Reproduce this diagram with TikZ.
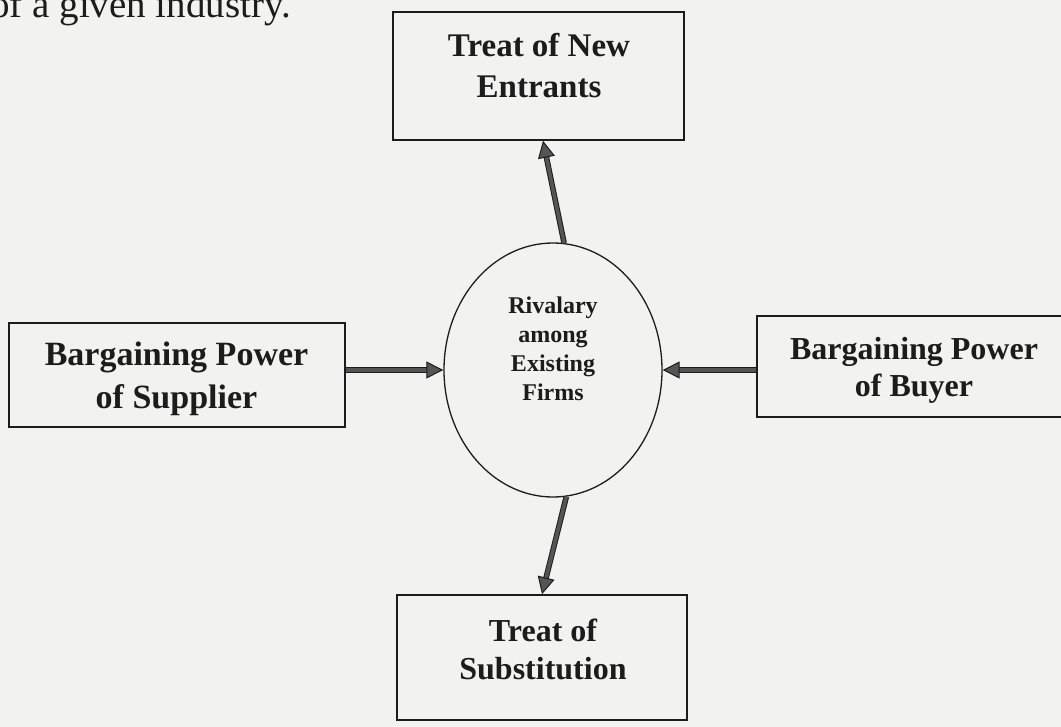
\documentclass[tikz,border=0pt]{standalone}
\usepackage{fontspec}
\setmainfont{Liberation Serif}
\usetikzlibrary{shapes.geometric,arrows.meta,calc}
\definecolor{paper}{RGB}{242,242,240}
\definecolor{ink}{RGB}{28,28,28}
\definecolor{shaft}{RGB}{85,85,85}
\begin{document}
\begin{tikzpicture}[x=1bp,y=-1bp,
  boxshape/.style={draw=ink, line width=1.6bp, inner sep=0pt},
  lbl/.style={align=center, inner sep=0pt, text=ink},
  flow/.style={draw=ink, line width=1bp, double=shaft, double distance=3.6bp,
    -{Triangle[width=17bp,length=17bp,fill=shaft,line width=1bp]}}]
\fill[paper] (0,0) rectangle (1061,727);
\useasboundingbox (0,0) rectangle (1061,727);
\clip (0,0) rectangle (1061,727);

\node[anchor=base west, inner sep=0pt, text=ink, font=\fontsize{39bp}{47bp}\selectfont] (ind) at (-10,18) {of a given industry.};

% boxes
\node[boxshape, minimum width=291bp, minimum height=128bp] (new) at (538.5,76) {};
\node[boxshape, minimum width=336bp, minimum height=104bp] (sup) at (177,375) {};
\node[boxshape, minimum width=318bp, minimum height=101bp] (buy) at (916,366.5) {};
\node[boxshape, minimum width=290bp, minimum height=125bp] (sub) at (542,657.5) {};
\node[draw=ink, line width=1.3bp, ellipse, minimum width=218bp, minimum height=254bp, inner sep=0pt] (ell) at (553,370) {};

% labels
\node[lbl, font=\bfseries\fontsize{33bp}{41bp}\selectfont] (newt) at (539,66) {Treat of New\\Entrants};
\node[lbl, font=\bfseries\fontsize{34bp}{43bp}\selectfont] (supt) at (176.5,378.5) {Bargaining Power\\of Supplier};
\node[lbl, font=\bfseries\fontsize{32bp}{37bp}\selectfont] (buyt) at (914,370.5) {Bargaining Power\\of Buyer};
\node[lbl, font=\bfseries\fontsize{32bp}{38bp}\selectfont] (subt) at (543,649.5) {Treat of\\Substitution};
\node[lbl, font=\bfseries\fontsize{24bp}{29bp}\selectfont] (ellt) at (553,348.5) {Rivalary\\among\\Existing\\Firms};

% connectors
\draw[flow] (sup.east |- ell.west) -- (ell.west);
\draw[flow] (buy.west |- ell.east) -- (ell.east);
\draw[flow] (ell.85) -- ($(new.south)+(4.5,0)$);
\draw[flow] (ell.-84) -- (sub.north);
\end{tikzpicture}
\end{document}
